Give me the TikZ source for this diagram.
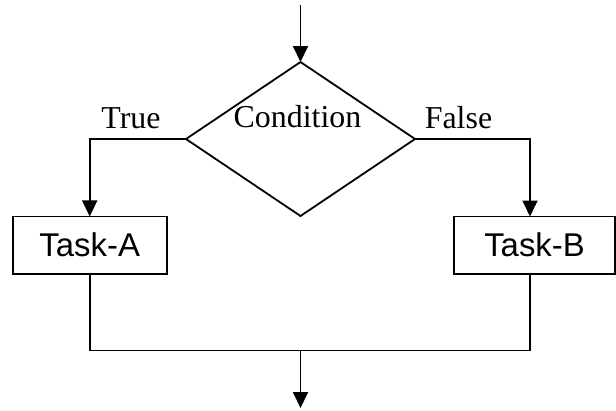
\documentclass[tikz,border=0pt]{standalone}
\usepackage{fontspec}
\setmainfont{Liberation Serif}
\setsansfont{Liberation Sans}
\usetikzlibrary{arrows.meta,shapes.geometric}

\begin{document}
\begin{tikzpicture}[x=1bp,y=-1bp,line width=1.8bp,
  decision/.style={draw,diamond,inner sep=0,outer sep=0,minimum width=229bp,minimum height=154bp},
  task/.style={draw,rectangle,inner sep=0,outer sep=0,minimum height=57.5bp,font=\sffamily\fontsize{33}{38}\selectfont},
  lbl/.style={anchor=base,inner sep=0,font=\fontsize{32}{37}\selectfont},
  arr/.style={-{Triangle[length=16bp,width=15bp]}}]
\useasboundingbox (0,0) rectangle (616,410);
\node[decision] (dec) at (300.5,139) {};
\node[lbl] (cond) at (297.5,127.5) {Condition};
\node[lbl] (tru) at (131,128) {True};
\node[lbl] (fal) at (458.5,128) {False};
\node[task,minimum width=154bp] (ta) at (89.7,245.2) {Task-A};
\node[task,minimum width=161bp] (tb) at (534.5,245.2) {Task-B};
\coordinate (in) at (300.5,5);
\coordinate (tbin) at (530,216.5);
\coordinate (tbout) at (530,274);
\coordinate (join) at (300.5,350.5);
\coordinate (out) at (300.5,408);
% flow
\draw[arr] (in) -- (dec.north);
\draw[arr] (dec.west) -| (ta.north);
\draw[arr] (dec.east) -| (tbin);
\draw (ta.south) |- (tbout |- join) -- (tbout);
\draw[arr] (join) -- (out);
\end{tikzpicture}
\end{document}
